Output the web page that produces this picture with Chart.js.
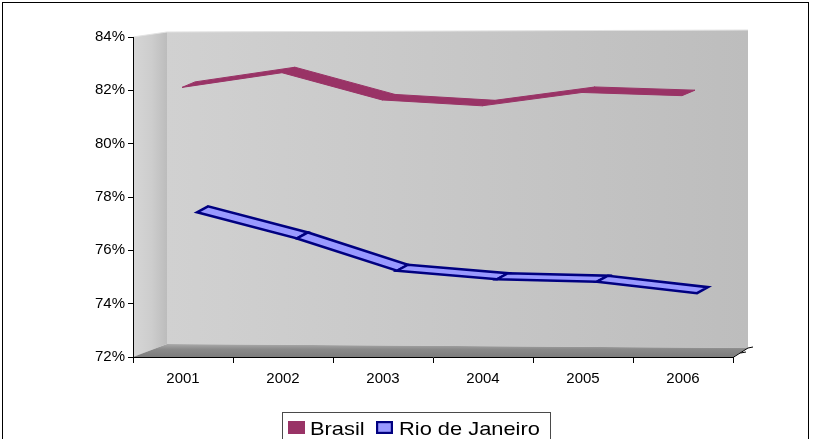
<!DOCTYPE html>
<html>
<head>
<meta charset="utf-8">
<script src="https://cdn.jsdelivr.net/npm/chart.js@4/dist/chart.umd.min.js"></script>
<style>
  html, body { margin: 0; padding: 0; background: #fff; }
  #wrap { width: 813px; height: 439px; position: relative; }
</style>
</head>
<body>
<div id="wrap"><canvas id="c"></canvas></div>
<script>
// Share of population (%), 2001-2006
const years = ['2001', '2002', '2003', '2004', '2005', '2006'];
const brasil = [82.11, 82.66, 81.64, 81.42, 81.92, 81.80];
const rioDeJaneiro = [77.20, 76.22, 75.01, 74.69, 74.60, 74.17];
const yTicks = [72, 74, 76, 78, 80, 82, 84];
const seriesNames = ['Brasil', 'Rio de Janeiro'];

const FONT = "'Liberation Sans', Arial, sans-serif";

// Walls and floor of the 3-D box, drawn behind the axes
const box3d = {
  id: 'box3d',
  beforeDraw(chart) {
    const { ctx, chartArea: a } = chart;
    const L = a.left, R = a.right, T = a.top, B = a.bottom;
    const bL = L + 34, bR = R + 15, bT = T - 5, bTR = T - 7, bB = B - 13, bBR = B - 9;
    ctx.save();
    ctx.fillStyle = '#fff';
    ctx.fillRect(0, 0, chart.width, chart.height);

    // back wall
    let g = ctx.createLinearGradient(bL, 0, bR, 0);
    g.addColorStop(0, '#d1d1d1');
    g.addColorStop(1, '#bdbdbd');
    ctx.fillStyle = g;
    ctx.beginPath();
    ctx.moveTo(bL, bT); ctx.lineTo(bR, bTR); ctx.lineTo(bR, bBR); ctx.lineTo(bL, bB);
    ctx.closePath(); ctx.fill();

    // left wall
    g = ctx.createLinearGradient(L, 0, bL, 0);
    g.addColorStop(0, '#d6d6d6');
    g.addColorStop(0.55, '#cdcdcd');
    g.addColorStop(1, '#bcbcbc');
    ctx.fillStyle = g;
    ctx.beginPath();
    ctx.moveTo(L, T); ctx.lineTo(bL, bT); ctx.lineTo(bL, bB); ctx.lineTo(L, B);
    ctx.closePath(); ctx.fill();

    // top edges highlight
    ctx.strokeStyle = '#e2e2e2';
    ctx.lineWidth = 1;
    ctx.beginPath();
    ctx.moveTo(L, T); ctx.lineTo(bL, bT); ctx.lineTo(bR, bTR);
    ctx.stroke();

    // floor
    g = ctx.createLinearGradient(0, B, 0, bB);
    g.addColorStop(0, '#7c7c7c');
    g.addColorStop(0.6, '#8a8a8a');
    g.addColorStop(1, '#aaaaaa');
    ctx.fillStyle = g;
    ctx.beginPath();
    ctx.moveTo(L, B); ctx.lineTo(bL, bB); ctx.lineTo(bR, bBR); ctx.lineTo(R, B);
    ctx.closePath(); ctx.fill();

    // depth edge of the floor with its ticks
    ctx.strokeStyle = '#000';
    ctx.beginPath();
    ctx.moveTo(R, B + 0.5); ctx.lineTo(bR, bBR);
    ctx.moveTo(bR, bBR); ctx.lineTo(bR + 5, bBR - 1);
    ctx.moveTo(R + 7.5, B - 4); ctx.lineTo(R + 13, B - 5);
    ctx.stroke();
    ctx.restore();
  }
};

// Each series drawn as a flat ribbon running into depth
const ribbons = {
  id: 'ribbons',
  afterDatasetsDraw(chart) {
    const ctx = chart.ctx;
    chart.data.datasets.forEach((ds, di) => {
      const meta = chart.getDatasetMeta(di);
      const r = ds.ribbon;
      const pts = meta.data.map(p => ({ x: p.x + r.sx, y: p.y + r.sy }));
      ctx.save();
      ctx.lineJoin = 'miter';
      for (let i = 0; i < pts.length - 1; i++) {
        const p = pts[i], q = pts[i + 1];
        ctx.beginPath();
        ctx.moveTo(p.x, p.y);
        ctx.lineTo(q.x, q.y);
        ctx.lineTo(q.x + r.dx, q.y + r.dy);
        ctx.lineTo(p.x + r.dx, p.y + r.dy);
        ctx.closePath();
        ctx.fillStyle = ds.backgroundColor;
        ctx.fill();
        ctx.strokeStyle = r.lw ? ds.borderColor : ds.backgroundColor;
        ctx.lineWidth = r.lw || 1;
        ctx.stroke();
      }
      ctx.restore();
    });
  }
};

// Boxed legend under the plot, plus the outer frame
const boxLegend = {
  id: 'boxLegend',
  afterDraw(chart) {
    const ctx = chart.ctx;
    ctx.save();
    ctx.strokeStyle = '#000';
    ctx.lineWidth = 1;
    ctx.strokeRect(2.5, 2.5, 806, 450);

    ctx.strokeStyle = '#4a4a4a';
    ctx.strokeRect(282.5, 412.5, 268, 40);

    const items = chart.data.datasets.map((ds, i) => ({
      text: seriesNames[i], fill: ds.backgroundColor, stroke: ds.borderColor, lw: ds.ribbon.lw
    }));
    const boxX = [288, 376];
    const textX = [310, 399];
    items.forEach((it, i) => {
      ctx.fillStyle = it.fill;
      ctx.fillRect(boxX[i], 421, 17, 13);
      if (it.lw) {
        ctx.strokeStyle = it.stroke;
        ctx.lineWidth = 2.2;
        ctx.strokeRect(boxX[i] + 1.1, 422.1, 14.8, 10.8);
      }
      ctx.save();
      ctx.fillStyle = '#000';
      ctx.font = '19px ' + FONT;
      ctx.textBaseline = 'alphabetic';
      ctx.translate(textX[i], 435);
      ctx.scale(1.15, 1);
      ctx.fillText(it.text, 0, 0);
      ctx.restore();
    });
    ctx.restore();
  }
};

new Chart(document.getElementById('c'), {
  type: 'line',
  data: {
    labels: years,
    datasets: [
      {
        label: seriesNames[0],
        data: brasil,
        backgroundColor: '#993366',
        borderColor: '#993366',
        showLine: false,
        pointRadius: 0,
        ribbon: { sx: -1, sy: 0, dx: 13, dy: -5.5 }
      },
      {
        label: seriesNames[1],
        data: rioDeJaneiro,
        backgroundColor: '#9999ff',
        borderColor: '#000080',
        showLine: false,
        pointRadius: 0,
        ribbon: { sx: 14, sy: -6, dx: 11, dy: -6, lw: 2.5 }
      }
    ]
  },
  options: {
    responsive: true,
    maintainAspectRatio: false,
    animation: false,
    layout: { padding: { left: 0, right: 80, top: 37, bottom: 0 } },
    plugins: { legend: { display: false }, tooltip: { enabled: false } },
    scales: {
      x: {
        type: 'category',
        offset: true,
        grid: { offset: true, drawOnChartArea: false, drawTicks: true, tickLength: 6, color: '#000' },
        border: { display: true, color: '#000', width: 1 },
        ticks: { color: '#000', font: { family: FONT, size: 15 }, padding: 7, maxRotation: 0 },
        afterFit(s) { s.height = 82; }
      },
      y: {
        min: 72,
        max: 84,
        afterBuildTicks(s) { s.ticks = yTicks.map(v => ({ value: v })); },
        grid: { drawOnChartArea: false, drawTicks: true, tickLength: 5, color: '#000' },
        border: { display: true, color: '#000', width: 1 },
        ticks: { color: '#000', font: { family: FONT, size: 15 }, padding: 3, callback: v => v + '%' },
        afterFit(s) { s.width = 133; }
      }
    }
  },
  plugins: [box3d, ribbons, boxLegend]
});
</script>
</body>
</html>
